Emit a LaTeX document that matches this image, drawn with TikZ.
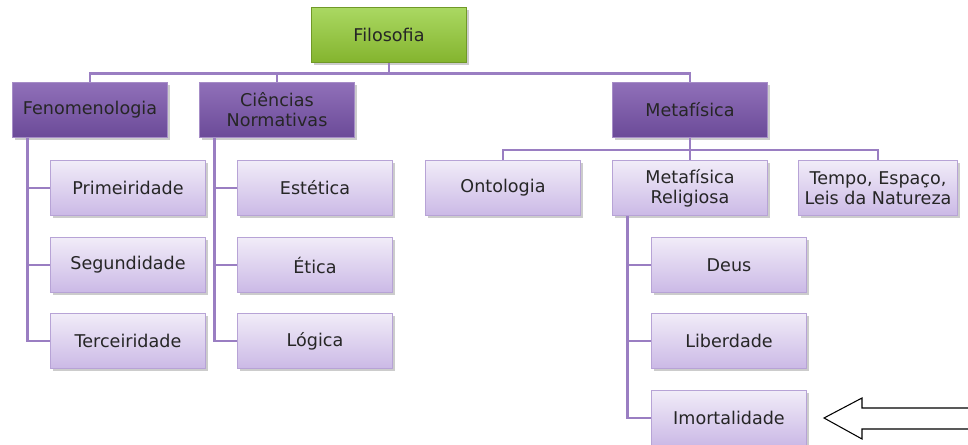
\documentclass[tikz,border=0pt]{standalone}
\usepackage{fontspec}
\setmainfont{DejaVu Sans}
\usetikzlibrary{shadows,calc}
\definecolor{verdeA}{HTML}{AAD862}
\definecolor{verdeB}{HTML}{84B42E}
\definecolor{roxoA}{HTML}{9070B9}
\definecolor{roxoB}{HTML}{6B4A98}
\definecolor{lilasA}{HTML}{F1ECF8}
\definecolor{lilasB}{HTML}{CBB9E6}
\definecolor{borda}{HTML}{B7A3D6}
\definecolor{linha}{HTML}{9A7EC2}

\begin{document}
\begin{tikzpicture}[x=0.02cm,y=-0.02cm,
    caixa/.style={minimum width=3.1cm,minimum height=1.1cm,align=center,
        font=\fontsize{10}{11.5}\selectfont,draw=borda,line width=0.6pt,
        text=black!85,
        drop shadow={shadow xshift=1.3pt,shadow yshift=-1.3pt,opacity=0.4}},
    raiz/.style={caixa,top color=verdeA,bottom color=verdeB,draw=verdeB!85!black},
    ramo/.style={caixa,top color=roxoA,bottom color=roxoB,draw=roxoA!80!white},
    folha/.style={caixa,top color=lilasA,bottom color=lilasB},
    conn/.style={draw=linha,line width=1.7pt}]
    \useasboundingbox (0,0) rectangle (968,445);

    % nivel 0 e 1
    \node[raiz] (fil) at (389,35) {Filosofia};
    \node[ramo] (fen) at (90,110) {Fenomenologia};
    \node[ramo] (cie) at (277,110) {Ciências\\Normativas};
    \node[ramo] (met) at (690,110) {Metafísica};

    % filhos de Metafisica
    \node[folha] (ont) at (503,188) {Ontologia};
    \node[folha] (rel) at (690,188) {Metafísica\\Religiosa};
    \node[folha] (tem) at (878,188) {Tempo, Espaço,\\Leis da Natureza};

    % colunas
    \node[folha] (pri) at (128,188) {Primeiridade};
    \node[folha] (seg) at (128,265) {Segundidade};
    \node[folha] (ter) at (128,341) {Terceiridade};
    \node[folha] (est) at (315,188) {Estética};
    \node[folha] (eti) at (315,265) {Ética};
    \node[folha] (log) at (315,341) {Lógica};
    \node[folha] (deu) at (729,265) {Deus};
    \node[folha] (lib) at (729,341) {Liberdade};
    \node[folha] (imo) at (729,418) {Imortalidade};

    % ligacoes
    \coordinate (bar1) at (389,74);
    \coordinate (bar2) at (690,150);
    \draw[conn] (fil.south) -- (bar1);
    \draw[conn] (fen.north) |- (bar1) -| (met.north);
    \draw[conn] (cie.north) -- (cie.north |- bar1);
    \draw[conn] (met.south) -- (bar2);
    \draw[conn] (ont.north) |- (bar2) -| (tem.north);
    \draw[conn] (rel.north) -- (bar2);

    \foreach \pai/\a/\b/\c in {fen/pri/seg/ter, cie/est/eti/log, rel/deu/lib/imo} {
        \draw[conn] ([xshift=16*0.02cm]\pai.south west) |- (\c.west);
        \draw[conn] ([xshift=16*0.02cm]\pai.south west) |- (\a.west);
        \draw[conn] ([xshift=16*0.02cm]\pai.south west) |- (\b.west);
    }

    % seta
    \coordinate (ponta) at ($(imo.east)+(17,0)$);
    \draw[line width=0.6pt] (968,408) -- (862,408) -- (862,398) -- (ponta)
        -- (862,439) -- (862,429) -- (968,429);
\end{tikzpicture}
\end{document}
